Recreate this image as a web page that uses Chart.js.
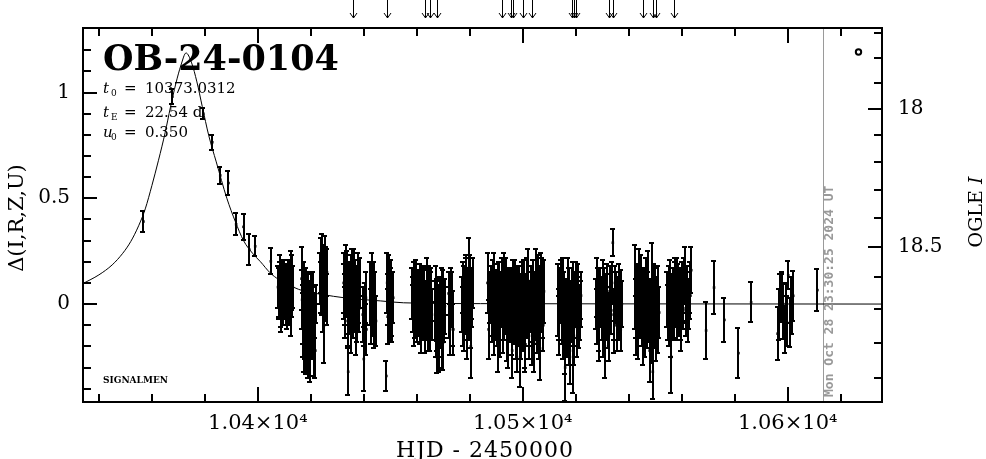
<!DOCTYPE html>
<html>
<head>
<meta charset="utf-8">
<script src="https://cdn.jsdelivr.net/npm/chart.js@4.4.1/dist/chart.umd.min.js"></script>
<style>
  body { margin: 0; background: #fff; }
  #wrap { width: 986px; height: 459px; }
</style>
</head>
<body>
<div id="wrap"><canvas id="lc"></canvas></div>
<script>
// photometry: HJD-2450000, delta flux, error
var hjd = [
  10356.8, 10367.7, 10379.4, 10382.8, 10385.8, 10388.9, 10391.8, 10394.6, 10396.8, 10399.0, 10404.9,
  10407.6, 10408.0, 10408.4, 10408.9, 10409.3, 10409.8, 10410.2, 10410.7, 10411.1, 10411.6, 10412.0, 10412.4, 10412.9, 10413.2,
  10416.5, 10416.9, 10417.3, 10417.8, 10418.2, 10418.6, 10419.0, 10419.5, 10419.9, 10420.3, 10420.7, 10421.1, 10421.5, 10421.8,
  10423.6, 10424.0, 10424.3, 10424.7, 10425.0, 10425.4, 10425.8, 10426.1,
  10432.4, 10432.8, 10433.3, 10433.7, 10434.1, 10434.5, 10435.0, 10435.4, 10435.8, 10436.3, 10436.7, 10437.2, 10437.6, 10438.1, 10438.5,
  10439.6, 10440.0, 10440.5, 10441.0, 10442.5, 10443.0, 10443.5, 10444.0, 10444.6,
  10448.5, 10448.8, 10449.2, 10449.6, 10450.0, 10450.4, 10450.8, 10451.1,
  10458.3, 10458.7, 10459.1, 10459.5, 10459.9, 10460.3, 10460.7, 10461.1, 10461.5, 10461.9, 10462.3, 10462.7, 10463.1, 10463.5, 10463.9, 10464.3, 10464.7, 10465.1, 10465.5,
  10467.0, 10467.4, 10467.5, 10467.8, 10468.2, 10468.6, 10469.0, 10469.4, 10469.8, 10470.2, 10470.6,
  10472.0, 10472.6, 10473.2, 10473.8,
  10477.2, 10477.6, 10478.0, 10478.4, 10478.8, 10479.2, 10479.6, 10480.0, 10480.4, 10480.8, 10481.1,
  10486.7, 10487.1, 10487.5,
  10488.0, 10488.5, 10489.0, 10489.5, 10490.0, 10490.5, 10491.0, 10491.5, 10492.0, 10492.5,
  10493.0, 10493.5, 10494.0, 10494.5, 10495.0, 10495.5, 10496.0, 10496.5, 10497.0, 10497.5,
  10498.0, 10498.5, 10499.0, 10499.5, 10500.0, 10500.5, 10501.0, 10501.5, 10502.0, 10502.5,
  10503.0, 10503.5, 10504.0, 10504.5, 10505.0, 10505.5, 10506.0, 10506.5, 10507.0, 10507.5,
  10508.0,
  10513.4, 10513.8, 10514.5, 10515.0, 10515.5, 10516.0, 10516.5, 10517.0, 10517.5, 10518.0, 10518.5, 10519.0, 10519.5, 10520.0, 10520.5, 10521.0, 10521.5, 10522.0,
  10527.8, 10528.2, 10528.6, 10529.2, 10529.8, 10530.4, 10531.0, 10531.6, 10532.2, 10532.8, 10533.4, 10534.0, 10534.6, 10535.2, 10535.8, 10536.4, 10537.0, 10537.4,
  10542.5, 10542.9, 10543.4, 10543.9, 10544.4, 10544.9, 10545.4, 10545.9, 10546.4, 10546.9, 10547.4, 10547.9, 10548.4, 10548.9, 10549.1, 10549.4, 10549.9, 10550.4, 10550.9, 10551.5,
  10554.6, 10555.1, 10555.6, 10556.1, 10556.6, 10557.1, 10557.6, 10558.1, 10558.6, 10559.1, 10559.6, 10560.1, 10560.6, 10561.2, 10561.8, 10562.4, 10563.0, 10563.6,
  10569.2, 10572.2, 10576.1, 10581.4, 10586.2,
  10596.2, 10597.1, 10597.7, 10598.3, 10599.0, 10599.3, 10600.2, 10600.9, 10601.5, 10602.1,
  10611.2
];
var delta = [
  0.39, 0.98, 0.90, 0.765, 0.608, 0.572, 0.377, 0.365, 0.257, 0.273, 0.202,
  0.08, 0.05, 0.11, 0.02, 0.07, 0.04, 0.09, 0.00, 0.06, 0.10, 0.03, 0.13, 0.05, 0.08,
  0.12, -0.05, -0.15, -0.12, 0.06, -0.08, -0.20, -0.02, 0.05, -0.10, -0.04, -0.18, -0.06, 0.00,
  0.12, 0.18, 0.06, 0.14, -0.10, 0.20, 0.09, 0.15,
  0.10, 0.02, 0.15, 0.05, -0.32, -0.02, 0.12, 0.06, -0.05, 0.14, 0.00, 0.08, -0.07, 0.04, 0.10,
  -0.05, -0.26, 0.00, -0.12, 0.05, 0.15, -0.02, 0.09, -0.08,
  -0.34, 0.10, 0.02, 0.13, -0.04, 0.06, -0.08, 0.03,
  0.05, -0.02, 0.08, -0.06, 0.02, -0.03, 0.06, -0.08, 0.00, 0.04, -0.05, 0.07, -0.10, 0.01, 0.09, -0.04, 0.03, -0.07, 0.05,
  -0.03, 0.05, -0.25, -0.10, -0.20, 0.02, -0.06, -0.15, 0.04, -0.08, -0.01,
  0.05, -0.12, 0.02, -0.12,
  0.00, 0.08, -0.08, 0.12, 0.03, -0.05, 0.17, 0.06, -0.20, 0.02, 0.10,
  0.10, -0.12, 0.03,
  0.05, -0.06, 0.10, -0.02, 0.04, -0.18, 0.08, -0.04, 0.01, -0.09,
  0.12, -0.01, -0.12, 0.06, -0.06, 0.02, -0.22, 0.09, -0.03, -0.14,
  0.04, -0.08, -0.25, 0.01, -0.10, 0.07, -0.19, -0.04, 0.11, -0.07,
  0.03, -0.15, 0.08, -0.02, 0.14, -0.09, 0.05, -0.21, 0.10, -0.03,
  0.06,
  0.02, -0.05, 0.08, -0.12, 0.03, -0.30, -0.06, 0.10, -0.14, -0.02, 0.05, -0.25, -0.08, 0.07, -0.11, 0.01, -0.04, 0.04,
  0.00, 0.08, -0.14, 0.04, -0.05, 0.10, -0.20, 0.02, -0.08, 0.06, -0.03, 0.29, -0.10, 0.03, -0.06, 0.07, -0.12, 0.00,
  0.08, -0.10, 0.02, 0.12, -0.04, 0.05, -0.16, 0.00, 0.09, -0.07, 0.03, -0.22, -0.02, 0.15, -0.32, -0.09, 0.04, -0.13, 0.06, -0.04,
  0.02, -0.08, 0.10, -0.25, 0.05, -0.03, 0.12, -0.06, 0.07, 0.01, -0.10, 0.09, -0.02, 0.14, 0.04, -0.07, 0.08, 0.16,
  -0.125, 0.078, -0.075, -0.232, 0.008,
  -0.14, 0.027, 0.03, -0.034, -0.12, 0.00, 0.136, -0.086, -0.055, 0.039,
  0.066
];
var err = [
  0.05, 0.035, 0.025, 0.035, 0.042, 0.056, 0.052, 0.06, 0.073, 0.047, 0.061,
  0.10, 0.12, 0.09, 0.13, 0.10, 0.11, 0.10, 0.10, 0.12, 0.11, 0.10, 0.12, 0.11, 0.10,
  0.15, 0.14, 0.17, 0.14, 0.11, 0.12, 0.15, 0.13, 0.10, 0.11, 0.12, 0.16, 0.10, 0.09,
  0.12, 0.13, 0.11, 0.10, 0.18, 0.12, 0.10, 0.11,
  0.14, 0.12, 0.13, 0.10, 0.11, 0.12, 0.11, 0.14, 0.11, 0.12, 0.13, 0.10, 0.11, 0.13, 0.12,
  0.13, 0.15, 0.10, 0.12, 0.15, 0.09, 0.13, 0.11, 0.12,
  0.07, 0.14, 0.12, 0.10, 0.13, 0.11, 0.10, 0.12,
  0.12, 0.11, 0.12, 0.10, 0.13, 0.12, 0.10, 0.11, 0.12, 0.14, 0.12, 0.11, 0.13, 0.10, 0.13, 0.12, 0.11, 0.15, 0.12,
  0.14, 0.13, 0.075, 0.12, 0.12, 0.11, 0.13, 0.15, 0.12, 0.10, 0.13,
  0.10, 0.12, 0.13, 0.12,
  0.13, 0.12, 0.14, 0.11, 0.13, 0.12, 0.14, 0.11, 0.15, 0.13, 0.12,
  0.14, 0.14, 0.12,
  0.13, 0.12, 0.14, 0.15, 0.12, 0.14, 0.12, 0.13, 0.11, 0.14,
  0.12, 0.13, 0.15, 0.11, 0.12, 0.14, 0.13, 0.12, 0.13, 0.12,
  0.14, 0.12, 0.14, 0.13, 0.12, 0.14, 0.13, 0.12, 0.15, 0.13,
  0.12, 0.14, 0.13, 0.15, 0.12, 0.14, 0.13, 0.15, 0.14, 0.13,
  0.15,
  0.17, 0.12, 0.13, 0.14, 0.12, 0.16, 0.13, 0.12, 0.15, 0.13, 0.12, 0.17, 0.12, 0.13, 0.14, 0.12, 0.13, 0.11,
  0.12, 0.14, 0.13, 0.13, 0.12, 0.11, 0.15, 0.12, 0.13, 0.12, 0.11, 0.063, 0.13, 0.12, 0.11, 0.12, 0.10, 0.11,
  0.20, 0.14, 0.13, 0.14, 0.12, 0.11, 0.13, 0.12, 0.13, 0.14, 0.12, 0.15, 0.13, 0.14, 0.13, 0.12, 0.13, 0.14, 0.12, 0.12,
  0.13, 0.12, 0.11, 0.17, 0.12, 0.13, 0.10, 0.11, 0.12, 0.10, 0.12, 0.11, 0.10, 0.13, 0.12, 0.11, 0.12, 0.11,
  0.133, 0.125, 0.105, 0.117, 0.094,
  0.125, 0.113, 0.11, 0.129, 0.11, 0.10, 0.066, 0.117, 0.086, 0.117,
  0.098
];

// second batch of baseline photometry (interleaved nights)
var hjdB = [
  10407.8, 10408.2, 10408.6, 10409.1, 10409.5, 10410.0, 10410.5, 10410.9, 10411.4, 10411.8, 10412.2, 10412.6, 10413.0,
  10416.7, 10417.1, 10417.5, 10418.0, 10418.4, 10418.8, 10419.2, 10419.7, 10420.1, 10420.5, 10420.9, 10421.3, 10421.7,
  10423.8, 10424.2, 10424.5, 10424.9, 10425.2, 10425.6, 10426.0,
  10432.6, 10433.0, 10433.5, 10433.9, 10434.3, 10434.8, 10435.2, 10435.6, 10436.0, 10436.5, 10436.9, 10437.4, 10437.8, 10438.3,
  10440.2, 10440.8, 10442.8, 10443.3, 10443.8, 10444.3,
  10449.0, 10449.4, 10449.8, 10450.2, 10450.6,
  10458.5, 10458.9, 10459.3, 10459.7, 10460.1, 10460.5, 10460.9, 10461.3, 10461.7, 10462.1, 10462.5, 10462.9, 10463.3, 10463.7, 10464.1, 10464.5, 10464.9, 10465.3, 10465.7,
  10467.2, 10467.6, 10468.0, 10468.4, 10468.8, 10469.2, 10469.6, 10470.0, 10470.4,
  10472.3, 10472.9, 10473.5,
  10477.4, 10477.8, 10478.2, 10478.6, 10479.0, 10479.4, 10479.8, 10480.2, 10480.6, 10481.0,
  10488.25, 10488.75, 10489.25, 10489.75, 10490.25, 10490.75, 10491.25, 10491.75, 10492.25, 10492.75,
  10493.25, 10493.75, 10494.25, 10494.75, 10495.25, 10495.75, 10496.25, 10496.75, 10497.25, 10497.75,
  10498.25, 10498.75, 10499.25, 10499.75, 10500.25, 10500.75, 10501.25, 10501.75, 10502.25, 10502.75,
  10503.25, 10503.75, 10504.25, 10504.75, 10505.25, 10505.75, 10506.25, 10506.75, 10507.25, 10507.75,
  10513.6, 10514.2, 10514.8, 10515.3, 10515.8, 10516.3, 10516.8, 10517.3, 10517.8, 10518.3, 10518.8, 10519.3, 10519.8, 10520.3, 10520.8, 10521.3, 10521.8,
  10528.0, 10528.4, 10528.9, 10529.5, 10530.1, 10530.7, 10531.3, 10531.9, 10532.5, 10533.1, 10533.7, 10534.3, 10534.9, 10535.5, 10536.1, 10536.7, 10537.2,
  10542.7, 10543.1, 10543.6, 10544.1, 10544.6, 10545.1, 10545.6, 10546.1, 10546.6, 10547.1, 10547.6, 10548.1, 10548.6, 10549.6, 10550.1, 10550.6, 10551.2,
  10554.8, 10555.3, 10555.8, 10556.3, 10556.8, 10557.3, 10557.8, 10558.3, 10558.8, 10559.3, 10559.8, 10560.3, 10560.8, 10561.5, 10562.1, 10562.7, 10563.3,
  10596.6, 10598.0, 10599.6, 10601.2
];
var deltaB = [
  0.06, 0.12, -0.02, 0.09, 0.03, 0.11, 0.05, -0.01, 0.08, 0.02, 0.07, -0.03, 0.10,
  0.02, -0.10, 0.08, -0.17, -0.03, 0.03, -0.11, -0.25, 0.01, -0.14, 0.04, -0.09, -0.22,
  0.08, 0.22, 0.00, 0.16, 0.04, 0.13, 0.02,
  0.06, -0.04, 0.11, -0.08, 0.07, 0.02, -0.10, 0.13, 0.01, 0.07, -0.12, 0.03, 0.12, -0.02,
  -0.08, 0.03, -0.06, 0.08, -0.10, 0.02,
  -0.06, 0.08, 0.00, 0.11, -0.03,
  0.00, -0.08, 0.04, 0.09, -0.05, 0.02, -0.02, 0.07, -0.11, 0.03, -0.01, 0.05, -0.06, 0.04, -0.09, 0.06, -0.02, 0.02, -0.05,
  -0.12, 0.00, -0.05, -0.13, -0.02, -0.09, 0.03, -0.18, -0.04,
  -0.04, 0.06, -0.07,
  -0.06, 0.05, -0.02, 0.09, -0.12, 0.04, -0.03, 0.11, -0.08, 0.05,
  -0.03, 0.08, -0.10, 0.03, -0.07, 0.05, -0.13, 0.02, 0.07, -0.05,
  -0.02, 0.09, -0.16, 0.01, 0.04, -0.10, 0.00, -0.06, 0.06, -0.20,
  0.00, 0.05, -0.12, 0.08, -0.03, -0.16, 0.02, 0.09, -0.11, -0.01,
  0.06, -0.05, -0.18, 0.03, -0.06, 0.09, -0.14, 0.00, 0.07, -0.10,
  -0.10, 0.04, -0.07, 0.09, -0.18, 0.00, -0.11, 0.05, -0.22, -0.05, 0.08, -0.15, 0.02, -0.04, 0.06, -0.09, 0.00,
  -0.06, 0.05, -0.09, 0.01, -0.12, 0.05, -0.04, 0.08, -0.15, 0.02, 0.10, -0.05, 0.05, -0.10, 0.02, -0.04, 0.06,
  -0.02, 0.06, -0.12, 0.03, 0.10, -0.08, 0.04, -0.11, 0.02, 0.11, -0.05, 0.00, -0.14, 0.07, -0.06, 0.01, -0.10,
  -0.04, 0.06, -0.12, 0.02, -0.06, 0.08, 0.00, 0.10, -0.04, 0.05, -0.06, 0.03, 0.11, -0.03, 0.07, 0.00, 0.04,
  -0.05, 0.05, -0.08, 0.02
];
var errB = [
  0.12, 0.11, 0.11, 0.12, 0.13, 0.10, 0.12, 0.11, 0.13, 0.12, 0.10, 0.12, 0.13,
  0.14, 0.15, 0.12, 0.16, 0.13, 0.12, 0.14, 0.12, 0.13, 0.12, 0.11, 0.14, 0.13,
  0.12, 0.11, 0.13, 0.12, 0.12, 0.14, 0.12,
  0.13, 0.12, 0.14, 0.12, 0.13, 0.11, 0.13, 0.13, 0.12, 0.14, 0.12, 0.13, 0.12, 0.11,
  0.12, 0.12, 0.13, 0.12, 0.11, 0.13,
  0.13, 0.12, 0.14, 0.10, 0.12,
  0.13, 0.12, 0.11, 0.12, 0.13, 0.11, 0.13, 0.12, 0.12, 0.11, 0.13, 0.12, 0.11, 0.12, 0.13, 0.12, 0.11, 0.13, 0.12,
  0.13, 0.12, 0.14, 0.12, 0.13, 0.12, 0.14, 0.13, 0.12,
  0.12, 0.11, 0.13,
  0.14, 0.13, 0.12, 0.13, 0.14, 0.12, 0.13, 0.12, 0.13, 0.12,
  0.12, 0.13, 0.14, 0.12, 0.13, 0.14, 0.12, 0.13, 0.15, 0.12,
  0.12, 0.13, 0.14, 0.12, 0.13, 0.14, 0.12, 0.13, 0.15, 0.12,
  0.12, 0.13, 0.14, 0.12, 0.13, 0.14, 0.12, 0.13, 0.15, 0.12,
  0.12, 0.13, 0.14, 0.12, 0.13, 0.14, 0.12, 0.13, 0.15, 0.12,
  0.14, 0.13, 0.12, 0.13, 0.15, 0.12, 0.14, 0.12, 0.16, 0.13, 0.12, 0.14, 0.13, 0.12, 0.13, 0.12, 0.11,
  0.13, 0.12, 0.13, 0.12, 0.13, 0.12, 0.13, 0.11, 0.12, 0.12, 0.10, 0.12, 0.13, 0.12, 0.11, 0.12, 0.10,
  0.14, 0.13, 0.14, 0.12, 0.13, 0.12, 0.13, 0.14, 0.12, 0.14, 0.13, 0.12, 0.14, 0.12, 0.13, 0.12, 0.13,
  0.13, 0.12, 0.13, 0.12, 0.11, 0.12, 0.11, 0.12, 0.11, 0.12, 0.11, 0.12, 0.11, 0.12, 0.11, 0.12, 0.11,
  0.12, 0.10, 0.12, 0.11
];

// model curve
var modelT = [10334.0, 10340.0, 10345.0, 10349.0, 10352.0, 10355.0, 10357.5, 10360.0, 10362.5, 10365.0,
  10367.0, 10369.0, 10371.0, 10372.9, 10375.0, 10377.0, 10379.0, 10381.5, 10384.3, 10388.3,
  10391.5, 10394.6, 10398.0, 10401.0, 10404.6, 10408.0, 10413.4, 10417.2, 10423.5, 10433.6,
  10446.2, 10455.0, 10484.0, 10530.0, 10636.0];
var modelD = [0.097, 0.138, 0.185, 0.24, 0.295, 0.37, 0.45, 0.56, 0.68, 0.81,
  0.93, 1.04, 1.13, 1.187, 1.14, 1.05, 0.935, 0.795, 0.672, 0.50,
  0.39, 0.30, 0.24, 0.20, 0.148, 0.115, 0.080, 0.062, 0.047, 0.028,
  0.015, 0.006, 0.002, 0.001, 0.0];

// arrows along the top
var arrowT = [10436.1, 10448.9, 10463.1, 10465.0, 10467.8, 10492.3, 10495.5, 10496.2, 10500.0, 10503.4,
  10518.7, 10519.5, 10520.1, 10532.7, 10534.2, 10545.5, 10549.3, 10550.3, 10557.2];
var nowHjd = 10613.3;

// ticks
var xTicks = [10340, 10360, 10380, 10400, 10420, 10440, 10460, 10480, 10500, 10520, 10540, 10560, 10580, 10600, 10620];
var xLabels = {10400: '1.04×10⁴', 10500: '1.05×10⁴', 10600: '1.06×10⁴'};
var yTicks = [-0.4, -0.3, -0.2, -0.1, 0, 0.1, 0.2, 0.3, 0.4, 0.5, 0.6, 0.7, 0.8, 0.9, 1.0, 1.1, 1.2];
var yLabels = {'0': '0', '0.5': '0.5', '1': '1'};
var magTicks = [17.7, 17.8, 17.9, 18.0, 18.1, 18.2, 18.3, 18.4, 18.5, 18.6, 18.7, 18.8, 18.9];
var magTickDelta = [1.282, 1.165, 1.045, 0.922, 0.798, 0.670, 0.539, 0.405, 0.269, 0.128, -0.024, -0.182, -0.349];
var magLabels = ['', '', '', '18', '', '', '', '', '18.5', '', '', '', ''];

var allT = hjd.concat(hjdB);
var allD = delta.concat(deltaB);
var allE = err.concat(errB);
var points = allT.map(function (t, i) { return {x: t, y: allD[i]}; });
var model = modelT.map(function (t, i) { return {x: t, y: modelD[i]}; });

var serif = 'DejaVu Serif';

var decor = {
  id: 'decor',
  beforeDatasetsDraw: function (chart) {
    var ctx = chart.ctx, a = chart.chartArea, x = chart.scales.x, y = chart.scales.y;
    ctx.save();
    ctx.beginPath();
    ctx.rect(a.left, a.top, a.right - a.left, a.bottom - a.top);
    ctx.clip();
    var nx = Math.round(x.getPixelForValue(nowHjd)) + 0.5;
    ctx.strokeStyle = '#9a9a9a';
    ctx.lineWidth = 1;
    ctx.beginPath();
    ctx.moveTo(nx, a.top);
    ctx.lineTo(nx, a.bottom);
    ctx.stroke();
    ctx.strokeStyle = '#000';
    ctx.lineWidth = 2;
    for (var i = 0; i < allT.length; i++) {
      var px = Math.round(x.getPixelForValue(allT[i]));
      var y1 = Math.round(y.getPixelForValue(allD[i] + allE[i]));
      var y2 = Math.round(y.getPixelForValue(allD[i] - allE[i]));
      ctx.beginPath();
      ctx.moveTo(px, y1); ctx.lineTo(px, y2);
      ctx.moveTo(px - 3, y1); ctx.lineTo(px + 2, y1);
      ctx.moveTo(px - 3, y2); ctx.lineTo(px + 2, y2);
      ctx.stroke();
    }
    ctx.restore();
  },
  afterDraw: function (chart) {
    var ctx = chart.ctx, a = chart.chartArea;
    var x = chart.scales.x, y = chart.scales.y, y2 = chart.scales.y2;
    ctx.save();
    ctx.strokeStyle = '#000';
    ctx.fillStyle = '#000';
    ctx.lineWidth = 2;
    ctx.strokeRect(a.left, a.top, a.right - a.left, a.bottom - a.top);

    // inward ticks
    ctx.beginPath();
    x.ticks.forEach(function (t) {
      var p = Math.round(x.getPixelForValue(t.value));
      var len = t.label ? 15 : 8;
      ctx.moveTo(p, a.bottom); ctx.lineTo(p, a.bottom - len);
      ctx.moveTo(p, a.top); ctx.lineTo(p, a.top + len);
    });
    y.ticks.forEach(function (t) {
      var p = Math.round(y.getPixelForValue(t.value));
      var len = t.label ? 14 : 8;
      ctx.moveTo(a.left, p); ctx.lineTo(a.left + len, p);
    });
    y2.ticks.forEach(function (t) {
      var p = Math.round(y2.getPixelForValue(t.value));
      var len = t.label ? 14 : 8;
      ctx.moveTo(a.right, p); ctx.lineTo(a.right - len, p);
    });
    ctx.stroke();

    // arrows on top
    ctx.lineWidth = 1;
    ctx.beginPath();
    arrowT.forEach(function (t) {
      var p = Math.round(x.getPixelForValue(t)) + 0.5;
      ctx.moveTo(p, 0); ctx.lineTo(p, 18);
      ctx.moveTo(p - 3.5, 13); ctx.lineTo(p, 18); ctx.lineTo(p + 3.5, 13);
    });
    ctx.stroke();

    // small circle marker
    ctx.lineWidth = 2;
    ctx.beginPath();
    ctx.arc(a.right - 23.5, a.top + 24, 2.7, 0, Math.PI * 2);
    ctx.stroke();

    // title and parameters
    ctx.textAlign = 'left';
    ctx.textBaseline = 'alphabetic';
    ctx.font = 'bold 35px "' + serif + '"';
    ctx.fillText('OB-24-0104', a.left + 20, 70);

    var rows = [['t', '0', '10373.0312', 93], ['t', 'E', '22.54 d', 117], ['u', '0', '0.350', 137]];
    rows.forEach(function (r) {
      ctx.font = 'italic 15px "' + serif + '"';
      ctx.fillText(r[0], 103, r[3]);
      ctx.font = '9px "' + serif + '"';
      ctx.fillText(r[1], 111, r[3] + 3);
      ctx.font = '15px "' + serif + '"';
      ctx.fillText('=', 124, r[3]);
      ctx.fillText(r[2], 145, r[3]);
    });

    ctx.font = 'bold 9px "' + serif + '"';
    ctx.fillText('SIGNALMEN', 103, 383);

    // axis titles
    ctx.font = '22px "' + serif + '"';
    ctx.textAlign = 'center';
    ctx.letterSpacing = '1px';
    ctx.fillText('HJD - 2450000', 485, 457);
    ctx.letterSpacing = '0px';

    ctx.save();
    ctx.translate(23, 218);
    ctx.rotate(-Math.PI / 2);
    ctx.font = '21px "' + serif + '"';
    ctx.fillText('Δ(I,R,Z,U)', 0, 0);
    ctx.restore();

    ctx.save();
    ctx.translate(982, 212);
    ctx.rotate(-Math.PI / 2);
    ctx.textAlign = 'left';
    ctx.font = '19px "' + serif + '"';
    var w1 = ctx.measureText('OGLE ').width;
    ctx.font = 'italic 19px "' + serif + '"';
    var w2 = ctx.measureText('I').width;
    ctx.font = '19px "' + serif + '"';
    ctx.fillText('OGLE ', -(w1 + w2) / 2, 0);
    ctx.font = 'italic 19px "' + serif + '"';
    ctx.fillText('I', -(w1 + w2) / 2 + w1, 0);
    ctx.restore();

    // date stamp along the now line
    ctx.save();
    var nx = x.getPixelForValue(nowHjd);
    ctx.translate(nx + 10, a.bottom - 5);
    ctx.rotate(-Math.PI / 2);
    ctx.textAlign = 'left';
    ctx.fillStyle = '#999';
    ctx.font = 'bold 13px "DejaVu Sans Mono"';
    ctx.fillText('Mon Oct 28 23:30:25 2024 UT', 0, 0);
    ctx.restore();

    ctx.restore();
  }
};

new Chart(document.getElementById('lc'), {
  data: {
    datasets: [{
      type: 'scatter',
      data: points,
      pointStyle: 'rect',
      pointRadius: 1.8,
      backgroundColor: '#000',
      borderWidth: 0
    }, {
      type: 'line',
      data: model,
      borderColor: '#000',
      borderWidth: 1,
      pointRadius: 0,
      fill: false,
      cubicInterpolationMode: 'monotone'
    }]
  },
  options: {
    responsive: true,
    maintainAspectRatio: false,
    animation: false,
    layout: { padding: { top: 25, left: 0, right: 0, bottom: 0 } },
    plugins: { legend: { display: false }, tooltip: { enabled: false } },
    scales: {
      x: {
        type: 'linear',
        position: 'bottom',
        min: 10334,
        max: 10635.6,
        grid: { display: false, drawTicks: false },
        border: { display: false },
        afterBuildTicks: function (s) { s.ticks = xTicks.map(function (v) { return {value: v}; }); },
        afterFit: function (s) { s.height = 57; },
        ticks: {
          autoSkip: false,
          maxRotation: 0,
          padding: 9,
          color: '#000',
          font: { family: serif, size: 21 },
          callback: function (v) { return xLabels[v] || ''; }
        }
      },
      y: {
        type: 'linear',
        position: 'left',
        min: -0.463,
        max: 1.305,
        grid: { display: false, drawTicks: false },
        border: { display: false },
        afterBuildTicks: function (s) { s.ticks = yTicks.map(function (v) { return {value: v}; }); },
        afterFit: function (s) { s.width = 83; },
        ticks: {
          autoSkip: false,
          padding: 13,
          color: '#000',
          font: { family: serif, size: 20 },
          callback: function (v) { return yLabels[String(Math.round(v * 10) / 10)] || ''; }
        }
      },
      y2: {
        type: 'linear',
        position: 'right',
        min: -0.463,
        max: 1.305,
        grid: { display: false, drawTicks: false },
        border: { display: false },
        afterBuildTicks: function (s) { s.ticks = magTickDelta.map(function (v) { return {value: v}; }); },
        afterFit: function (s) { s.width = 104; },
        ticks: {
          autoSkip: false,
          padding: 16,
          color: '#000',
          font: { family: serif, size: 20 },
          callback: function (v) {
            for (var i = 0; i < magTickDelta.length; i++) {
              if (Math.abs(magTickDelta[i] - v) < 1e-6) return magLabels[i];
            }
            return '';
          }
        }
      }
    }
  },
  plugins: [decor]
});
</script>
</body>
</html>
